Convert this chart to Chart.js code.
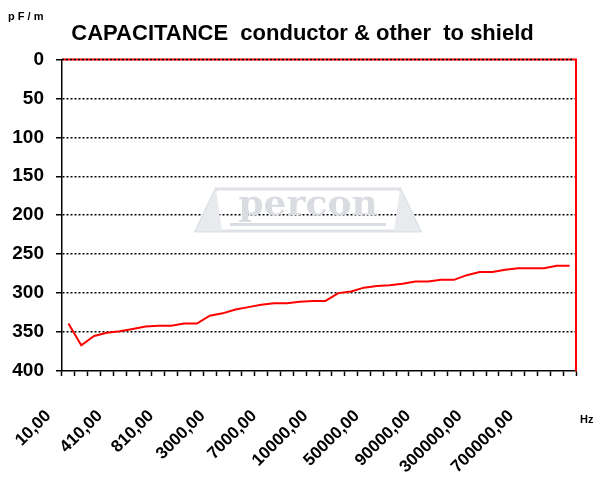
<!DOCTYPE html>
<html>
<head>
<meta charset="utf-8">
<script src="https://cdn.jsdelivr.net/npm/chart.js@4/dist/chart.umd.min.js"></script>
<style>
  html, body { margin: 0; padding: 0; background: #ffffff; }
  #wrap { width: 605px; height: 477px; position: relative; }
</style>
</head>
<body>
<div id="wrap"><canvas id="c" width="605" height="477"></canvas></div>
<script>
// ---- data ----
const categories = [
  "10,00", "110,00", "210,00", "310,00", "410,00", "510,00", "610,00", "710,00",
  "810,00", "910,00", "1000,00", "2000,00", "3000,00", "4000,00", "5000,00", "6000,00",
  "7000,00", "8000,00", "9000,00", "9500,00", "10000,00", "20000,00", "30000,00", "40000,00",
  "50000,00", "60000,00", "70000,00", "80000,00", "90000,00", "100000,00", "150000,00", "200000,00",
  "300000,00", "400000,00", "500000,00", "600000,00", "700000,00", "800000,00", "900000,00", "1000000,00"
];
const capacitance = [
  339, 367, 355, 351, 349, 346, 343, 342, 342, 339,
  339, 329, 326, 321, 318, 315, 313, 313, 311, 310,
  310, 300, 298, 293, 291, 290, 288, 285, 285, 283,
  283, 277, 273, 273, 270, 268, 268, 268, 265, 265
];
const yTicks = [0, 50, 100, 150, 200, 250, 300, 350, 400];
const titleText = "CAPACITANCE  conductor & other  to shield";
const yUnit = "p F / m";
const xUnit = "Hz";

const FONT = 'Arial, "Liberation Sans", Helvetica, sans-serif';

const decoPlugin = {
  id: 'deco',
  beforeDatasetsDraw(chart) {
    const ctx = chart.ctx;
    // faint watermark logo
    ctx.save();
    const cx = 308, cy = 209;
    ctx.strokeStyle = '#dfe2e6';
    ctx.fillStyle = '#e8eaed';
    ctx.lineWidth = 3;
    ctx.beginPath();
    ctx.moveTo(cx - 112, cy + 22);
    ctx.lineTo(cx - 92, cy - 20);
    ctx.lineTo(cx + 92, cy - 20);
    ctx.lineTo(cx + 112, cy + 22);
    ctx.closePath();
    ctx.stroke();
    ctx.beginPath();
    ctx.moveTo(cx - 112, cy + 22); ctx.lineTo(cx - 92, cy - 20); ctx.lineTo(cx - 86, cy + 22); ctx.closePath(); ctx.fill();
    ctx.beginPath();
    ctx.moveTo(cx + 112, cy + 22); ctx.lineTo(cx + 92, cy - 20); ctx.lineTo(cx + 86, cy + 22); ctx.closePath(); ctx.fill();
    ctx.fillStyle = '#d9dde2';
    ctx.font = 'bold 36px "DejaVu Serif", serif';
    ctx.textAlign = 'center';
    ctx.textBaseline = 'middle';
    ctx.fillText('percon', cx, cy - 3);
    ctx.fillRect(cx - 78, cy + 14, 156, 3);
    ctx.restore();
  },
  afterDraw(chart) {
    const ctx = chart.ctx;
    const a = chart.chartArea;
    ctx.save();
    // red frame top and right
    ctx.strokeStyle = '#ff0000';
    ctx.lineWidth = 2;
    ctx.beginPath();
    ctx.moveTo(a.left, a.top);
    ctx.lineTo(a.right, a.top);
    ctx.lineTo(a.right, a.bottom);
    ctx.stroke();
    ctx.strokeStyle = '#000000';
    ctx.lineWidth = 1.5;
    ctx.setLineDash([2, 2]);
    ctx.beginPath();
    ctx.moveTo(a.left, a.top);
    ctx.lineTo(a.right - 2, a.top);
    ctx.stroke();
    ctx.setLineDash([]);
    // units
    ctx.fillStyle = '#000000';
    ctx.font = 'bold 11px ' + FONT;
    ctx.textAlign = 'left';
    ctx.textBaseline = 'middle';
    ctx.fillText(yUnit, 8, 17);
    ctx.fillText(xUnit, 580, 420);
    ctx.restore();
  }
};

new Chart(document.getElementById('c'), {
  type: 'line',
  data: {
    labels: categories,
    datasets: [{
      data: capacitance,
      borderColor: '#ff0000',
      borderWidth: 2,
      pointRadius: 0,
      tension: 0,
      fill: false
    }]
  },
  options: {
    responsive: false,
    animation: false,
    layout: { padding: 0 },
    plugins: {
      legend: { display: false },
      tooltip: { enabled: false },
      title: {
        display: true,
        text: titleText,
        color: '#000000',
        font: { family: FONT, size: 22, weight: 'bold' },
        padding: { top: 21, bottom: 12 }
      }
    },
    scales: {
      x: {
        type: 'category',
        offset: true,
        grid: {
          offset: true,
          drawOnChartArea: false,
          drawTicks: true,
          tickLength: 5,
          tickColor: '#000000',
          tickWidth: 1.5
        },
        border: { color: '#000000', width: 1.5 },
        ticks: {
          autoSkip: false,
          maxRotation: 45,
          minRotation: 45,
          padding: 30,
          labelOffset: -20,
          color: '#000000',
          font: { family: FONT, size: 17, weight: 'bold' },
          callback: function (v, i) { return i % 4 === 0 ? categories[i] : ''; }
        },
        afterFit: function (s) { s.height = 106; s.paddingLeft = 0; s.paddingRight = 0; }
      },
      y: {
        reverse: true,
        min: 0,
        max: 400,
        afterBuildTicks: function (s) { s.ticks = yTicks.map(v => ({ value: v })); },
        grid: {
          color: function (c) { return (c.tick && (c.tick.value === 0 || c.tick.value === 400)) ? 'rgba(0,0,0,0)' : '#000000'; },
          lineWidth: 1.5,
          drawTicks: true,
          tickLength: 6,
          tickColor: '#000000',
          tickWidth: 1.5,
          tickBorderDash: []
        },
        border: { color: '#000000', width: 1.5, dash: [2, 2] },
        ticks: {
          padding: 12,
          color: '#000000',
          font: { family: FONT, size: 19, weight: 'bold' }
        },
        afterFit: function (s) { s.width = 62; }
      },
      yRight: {
        position: 'right',
        display: true,
        min: 0,
        max: 400,
        grid: { display: false, drawTicks: false },
        border: { display: false },
        ticks: { display: false },
        afterFit: function (s) { s.width = 29; }
      }
    }
  },
  plugins: [decoPlugin]
});
</script>
</body>
</html>
